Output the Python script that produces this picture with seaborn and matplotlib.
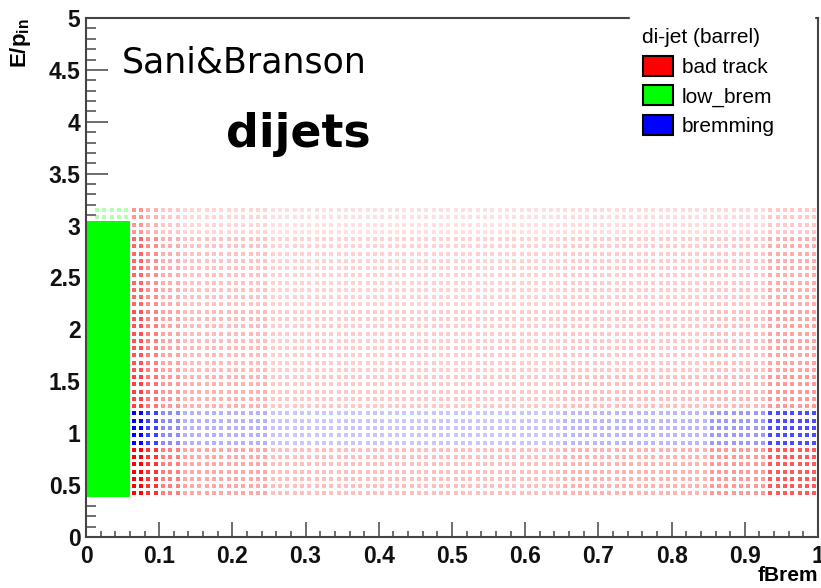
import numpy as np
import pandas as pd
import matplotlib
matplotlib.use('Agg')
import matplotlib.pyplot as plt
import matplotlib.ticker as mticker
from matplotlib.patches import Patch
import seaborn as sns

# --- dot lattice of the scatter (pitch) ---
FBREM_STEP = 0.01
EP_STEP = 0.07
EP_LOW = 0.42
EP_HIGH = 3.2

CATEGORIES = ['bad track', 'low_brem', 'bremming']
COLORS = {'bad track': '#ff0000', 'low_brem': '#00ff00', 'bremming': '#0000ff'}

# region boundaries
LOW_BREM_FBREM_MAX = 0.06
LOW_BREM_EP_MAX = 3.05
LOW_BREM_TOP_SHADE = 0.3
BREM_BAND = (0.86, 1.22)

# shade (density) per fBrem slice
FBREM_EDGES = [0.06, 0.08, 0.10, 0.13, 0.25, 0.45, 0.65, 0.85, 0.93, 1.00]
RED_BELOW = [1.0, 0.8, 0.5, 0.35, 0.25, 0.25, 0.3, 0.4, 0.65]
RED_ABOVE = [0.75, 0.55, 0.4, 0.3, 0.22, 0.22, 0.25, 0.28, 0.4]
BLUE_BAND = [1.0, 0.75, 0.45, 0.3, 0.22, 0.22, 0.28, 0.4, 0.7]

# fade of the red above the bremming band, per E/p slice
EP_EDGES_ABOVE = [1.22, 1.6, 2.2, 2.9, 3.21]
RED_EP_FADE = [1.0, 0.9, 0.8, 0.55]


def build_points():
    fb_cols = np.arange(FBREM_STEP / 2, 1.0, FBREM_STEP)
    ep_rows = np.arange(EP_LOW, EP_HIGH, EP_STEP)
    rows = []
    for fb in fb_cols:
        for ep in ep_rows:
            if fb < LOW_BREM_FBREM_MAX:
                if ep <= LOW_BREM_EP_MAX:
                    rows.append((fb, ep, 'low_brem', 1.0))
                elif fb > 0.01:
                    rows.append((fb, ep, 'low_brem', LOW_BREM_TOP_SHADE))
                continue
            i = min(np.searchsorted(FBREM_EDGES, fb) - 1, len(RED_BELOW) - 1)
            if BREM_BAND[0] <= ep <= BREM_BAND[1]:
                rows.append((fb, ep, 'bremming', BLUE_BAND[i]))
            elif ep < BREM_BAND[0]:
                rows.append((fb, ep, 'bad track', RED_BELOW[i]))
            else:
                j = min(np.searchsorted(EP_EDGES_ABOVE, ep) - 1, len(RED_EP_FADE) - 1)
                rows.append((fb, ep, 'bad track', RED_ABOVE[i] * RED_EP_FADE[j]))
    df = pd.DataFrame(rows, columns=['fBrem', 'Ep', 'cat', 'shade'])
    df['shade'] = df['shade'].round(2)
    return df


sns.set_style('white')
plt.rcParams['font.family'] = ['Liberation Sans', 'DejaVu Sans']
plt.rcParams['mathtext.fontset'] = 'custom'
plt.rcParams['mathtext.bf'] = 'Liberation Sans:bold'
plt.rcParams['mathtext.rm'] = 'Liberation Sans'
plt.rcParams['text.color'] = 'black'
plt.rcParams['axes.labelcolor'] = 'black'

df = build_points()

fig = plt.figure(figsize=(8.21, 5.88), dpi=100)
ax = fig.add_axes([86 / 821, 1 - 537 / 588, (818 - 86) / 821, (537 - 18) / 588])

for (cat, shade), grp in df.groupby(['cat', 'shade']):
    size = 30 if (cat == 'low_brem' and shade == 1.0) else 5
    sns.scatterplot(data=grp, x='fBrem', y='Ep', color=COLORS[cat], alpha=shade,
                    marker='s', s=size, linewidth=0, ax=ax, legend=False)

ax.set_xlim(0, 1)
ax.set_ylim(0, 5)
ax.xaxis.set_major_locator(mticker.MultipleLocator(0.1))
ax.xaxis.set_minor_locator(mticker.MultipleLocator(0.02))
ax.yaxis.set_major_locator(mticker.MultipleLocator(0.5))
ax.yaxis.set_minor_locator(mticker.MultipleLocator(0.1))
fmt = mticker.FuncFormatter(lambda v, p: f'{v:g}')
ax.xaxis.set_major_formatter(fmt)
ax.yaxis.set_major_formatter(fmt)

ax.tick_params(axis='x', which='major', direction='in', length=11, width=1.2, color='#555555', pad=6)
ax.tick_params(axis='x', which='minor', direction='in', length=4.5, width=1.2, color='#555555')
ax.tick_params(axis='y', which='major', direction='in', length=16, width=1.2, color='#555555', pad=4)
ax.tick_params(axis='y', which='minor', direction='in', length=7.5, width=1.2, color='#555555')
ax.tick_params(which='both', bottom=True, left=True, top=False, right=False)
for lab in ax.get_xticklabels() + ax.get_yticklabels():
    lab.set_fontsize(16.5)
    lab.set_fontweight('bold')
    lab.set_color('#111111')

for sp in ax.spines.values():
    sp.set_color('#444444')
    sp.set_linewidth(1.5)

ax.set_xlabel('fBrem', fontsize=15, fontweight='bold', ha='right', va='top')
ax.xaxis.set_label_coords(1.0, -(566 - 537) / 519)
ax.set_ylabel(r'$\mathbf{E/p_{in}}$', fontsize=16, ha='right', va='bottom')
ax.yaxis.set_label_coords(-(86 - 33) / 732, 1.0)

handles = [Patch(facecolor=COLORS[c], edgecolor='black', linewidth=1.5, label=c) for c in CATEGORIES]
leg = ax.legend(handles=handles, title='di-jet (barrel)', loc='upper left',
                bbox_to_anchor=((630 - 86) / 732, 0, (814 - 630) / 732, 1.004),
                mode='expand', borderaxespad=0,
                fontsize=15, title_fontsize=15, frameon=True, fancybox=False,
                edgecolor='white', facecolor='white', framealpha=1,
                handlelength=1.45, handleheight=1.1, handletextpad=0.45,
                labelspacing=0.4, borderpad=0.6, alignment='left')
leg.set_zorder(10)

fig.text(122 / 821, 1 - 72.7 / 588, 'Sani&Branson', fontsize=25, family='DejaVu Sans',
         color='black', va='baseline', ha='left')
fig.text(226 / 821, 1 - 147 / 588, 'dijets', fontsize=33, family='DejaVu Sans',
         color='black', fontweight='bold', va='baseline', ha='left')

fig.savefig('out.png', dpi=100)
